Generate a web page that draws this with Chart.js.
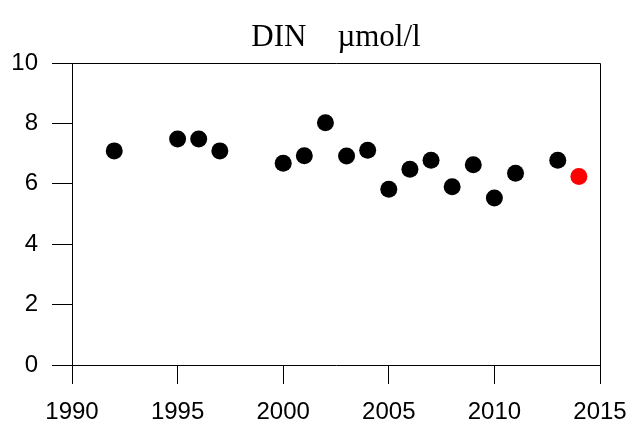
<!DOCTYPE html>
<html>
<head>
<meta charset="utf-8">
<script src="https://cdn.jsdelivr.net/npm/chart.js@4"></script>
<style>
  html, body { margin: 0; padding: 0; background: #fff; }
  canvas { display: block; }
</style>
</head>
<body>
<canvas id="chart" width="643" height="428"></canvas>
<script>
// DIN measurements (µmol/l) per year
const years = [1992, 1995, 1996, 1997, 2000, 2001, 2002, 2003, 2004, 2005, 2006, 2007, 2008, 2009, 2010, 2011, 2013];
const din = [7.09, 7.48, 7.48, 7.09, 6.68, 6.93, 8.02, 6.92, 7.11, 5.82, 6.48, 6.78, 5.90, 6.63, 5.53, 6.35, 6.78];
// latest year, drawn in red
const latestYear = [2014];
const latestDin = [6.24];

const xTicks = [1990, 1995, 2000, 2005, 2010, 2015];
const yTicks = [0, 2, 4, 6, 8, 10];
const titleText = "DIN    µmol/l";

// box round the plot + title centred over the plot area
const frame = {
  id: "frame",
  afterDatasetsDraw(chart) {
    const { ctx, chartArea: a } = chart;
    ctx.save();
    ctx.strokeStyle = "#000";
    ctx.lineWidth = 1;
    ctx.beginPath();
    ctx.moveTo(a.left, a.top + 0.5);
    ctx.lineTo(a.right + 0.5, a.top + 0.5);
    ctx.lineTo(a.right + 0.5, a.bottom);
    ctx.stroke();

    ctx.fillStyle = "#000";
    ctx.font = "31px 'Liberation Serif', 'Times New Roman', serif";
    ctx.textAlign = "center";
    ctx.textBaseline = "alphabetic";
    ctx.fillText(titleText, (a.left + a.right) / 2, 46);
    ctx.restore();
  }
};

const tickFont = { family: "'Liberation Sans', Arial, sans-serif", size: 24 };

new Chart(document.getElementById("chart"), {
  type: "scatter",
  data: {
    datasets: [
      {
        data: years.map((y, i) => ({ x: y, y: din[i] })),
        backgroundColor: "#000",
        borderColor: "#000",
        pointRadius: 8.5,
        borderWidth: 0
      },
      {
        data: latestYear.map((y, i) => ({ x: y, y: latestDin[i] })),
        backgroundColor: "#ff0000",
        borderColor: "#ff0000",
        pointRadius: 8.5,
        borderWidth: 0
      }
    ]
  },
  options: {
    responsive: false,
    animation: false,
    devicePixelRatio: 1,
    layout: { padding: { left: 0, right: 43, top: 63, bottom: 0 } },
    plugins: {
      legend: { display: false },
      tooltip: { enabled: false },
      title: { display: false }
    },
    scales: {
      x: {
        type: "linear",
        min: 1990,
        max: 2015,
        afterBuildTicks: s => { s.ticks = xTicks.map(v => ({ value: v })); },
        afterFit: s => { s.height = 63; },
        border: { color: "#000", width: 1 },
        grid: { drawOnChartArea: false, drawTicks: true, tickLength: 19, color: "#000" },
        ticks: { color: "#000", font: tickFont, padding: 14, maxRotation: 0, callback: v => String(v) }
      },
      y: {
        min: 0,
        max: 10,
        afterBuildTicks: s => { s.ticks = yTicks.map(v => ({ value: v })); },
        afterFit: s => { s.width = 72; },
        border: { color: "#000", width: 1 },
        grid: { drawOnChartArea: false, drawTicks: true, tickLength: 20, color: "#000" },
        ticks: { color: "#000", font: tickFont, padding: 14 }
      }
    }
  },
  plugins: [frame]
});
</script>
</body>
</html>
